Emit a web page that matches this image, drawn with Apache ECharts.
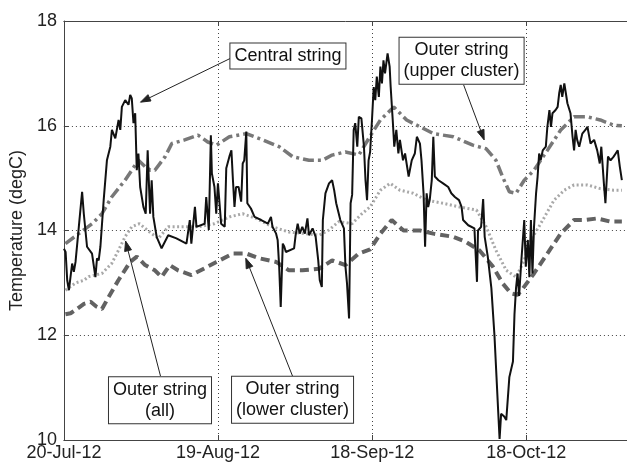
<!DOCTYPE html>
<html><head><meta charset="utf-8">
<script src="https://cdn.jsdelivr.net/npm/echarts@6/dist/echarts.min.js"></script>
<style>html,body{margin:0;padding:0;background:#fff}#c{width:627px;height:463px}</style>
</head><body><div id="c"></div>
<script>
// x values are days since 20-Jul-12
const xTickLabels = ['20-Jul-12', '19-Aug-12', '18-Sep-12', '18-Oct-12'];
const yTicks = [10, 12, 14, 16, 18];

const centralDays = [0.0,0.33,0.64,0.97,1.6,1.93,2.26,2.9,3.54,3.87,4.5,5.47,6.13,6.44,6.77,7.1,7.74,8.37,9.03,9.34,10.0,10.64,10.97,11.28,11.93,12.57,12.9,13.21,13.54,13.87,14.18,14.5,14.84,15.47,15.92,16.3,16.77,17.08,17.41,18.05,19.01,20.3,21.9,23.85,24.5,24.8,25.5,25.8,27.4,27.7,28.2,28.6,28.8,29.3,29.65,
29.98,30.6,31.3,31.6,32.2,32.6,32.9,33.2,33.5,34.0,34.5,34.8,35.1,35.5,35.7,36.4,37.1,38.4,39.7,40.3,40.6,41.3,41.6,41.9,42.2,42.6,42.9,43.2,44.8,45.1,45.5,45.9,46.4,46.9,47.4,47.7,48.4,49.0,49.5,49.8,50.2,50.4,50.9,51.6,52.2,52.6,53.0,53.8,54.5,54.8,55.1,55.5,55.8,56.1,56.4,56.7,57.1,57.4,57.9,58.4,58.7,59.0,59.3,59.6,
59.96,60.3,60.6,60.9,61.3,61.6,61.9,62.2,62.5,63.0,63.4,63.6,64.0,64.3,64.7,65.1,65.4,66.0,66.4,67.1,67.7,68.3,68.7,69.3,69.6,70.0,70.3,70.6,70.9,71.2,71.6,71.9,72.2,72.9,73.8,74.8,75.4,76.1,76.9,77.4,77.7,78.7,79.9,80.4,80.6,81.2,81.6,81.9,82.5,83.2,83.8,84.5,84.8,85.1,85.7,86.1,86.7,87.4,87.7,88.0,88.3,88.6,89.0,89.6,89.9,90.3,90.6,90.9,91.2,91.5,91.9,92.2,92.5,92.8,93.2,93.8,94.1,94.5,94.8,95.1,95.7,96.1,96.4,96.7,97.0,97.4,97.7,98.0,98.6,99.0,99.3,99.6,99.9,100.3,100.9,101.5,101.9,102.5,103.2,103.8,104.3,104.6,105.1,105.4,105.9,106.4,107.0,107.4,107.8,108.2,108.6];
const centralTemp = [13.65,13.59,13.05,12.86,13.37,13.21,13.40,14.07,14.74,14.32,13.69,13.56,13.11,13.47,13.43,13.69,14.58,15.34,15.60,15.92,15.76,16.11,15.92,16.36,16.49,16.40,16.59,16.52,16.05,16.24,15.15,15.47,14.83,14.45,14.32,15.53,14.32,14.96,14.26,13.88,13.66,13.91,13.85,13.75,14.20,13.75,14.45,14.07,14.13,14.64,14.01,15.82,15.09,14.83,14.32,
14.90,14.13,14.07,15.19,15.41,15.53,14.96,14.45,14.83,14.83,14.55,15.28,15.34,15.89,14.52,14.42,14.26,14.20,14.13,14.26,14.07,13.94,13.82,13.31,12.54,13.75,13.69,13.59,13.66,13.91,14.13,13.94,14.07,13.94,14.23,13.91,14.04,13.88,13.43,13.05,12.92,14.20,14.71,14.90,14.96,14.77,14.52,14.20,14.04,13.31,12.99,12.32,14.52,14.68,15.92,16.05,15.60,16.17,16.14,15.60,14.96,14.58,15.34,15.50,
16.11,16.74,16.49,16.94,16.55,17.13,16.81,17.25,17.00,17.38,17.13,16.74,16.11,15.60,15.92,15.47,15.73,15.34,15.47,15.03,15.34,15.47,15.79,15.66,15.34,14.71,13.69,14.71,14.45,14.58,14.96,15.79,15.03,14.96,14.90,14.83,14.71,14.64,14.58,14.45,14.20,14.10,14.04,13.02,14.00,14.07,14.60,13.88,13.50,12.90,12.00,10.60,10.02,10.50,10.45,10.38,11.20,11.50,12.40,12.90,13.18,12.75,13.37,14.20,13.31,13.82,13.11,14.20,13.18,14.07,14.71,15.03,15.47,15.34,15.53,15.60,15.98,16.30,15.98,16.24,16.30,16.36,16.62,16.78,16.55,16.81,16.62,16.43,16.24,15.79,15.53,15.92,15.73,15.60,15.85,15.92,15.98,15.66,15.73,15.53,15.28,15.60,14.90,14.52,15.41,15.34,15.41,15.47,15.53,15.22,14.96];

const upperDays = [0.3,2.9,5.5,7.4,9.3,11.9,14.5,15.8,16.8,17.7,19.7,21.0,23.5,26.1,28.0,29.7,32.2,35.5,38.7,41.9,44.5,47.7,50.3,52.2,54.8,57.4,59.6,61.6,64.2,66.7,69.3,71.9,75.8,79.6,82.2,84.1,85.4,86.7,88.0,89.6,91.5,94.1,96.7,99.3,101.9,104.4,107.0,108.6];
const upperTemp = [13.75,13.94,14.13,14.32,14.64,14.96,15.34,15.22,15.15,15.15,15.41,15.66,15.73,15.82,15.69,15.63,15.79,15.85,15.73,15.60,15.41,15.34,15.34,15.44,15.50,15.44,15.80,16.11,16.36,16.11,15.98,15.85,15.79,15.63,15.56,15.34,15.02,14.74,14.71,14.96,15.15,15.53,15.92,16.17,16.17,16.11,16.01,16.00];

const allDays = [0.3,2.3,3.9,4.8,7.4,9.3,10.6,11.9,13.2,14.7,17.1,18.4,20.3,22.9,26.1,29.3,32.2,34.8,37.4,40.6,43.8,47.1,49.7,51.6,53.5,56.1,58.0,59.6,61.6,63.5,65.4,68.0,70.6,73.8,77.0,80.3,82.2,84.1,86.1,88.0,89.6,90.9,92.8,95.4,97.4,99.3,101.9,104.4,107.0,108.6];
const allTemp = [12.86,13.00,13.05,13.12,13.18,13.37,13.62,13.88,14.07,14.13,13.94,13.85,14.07,14.07,14.07,14.13,14.26,14.32,14.23,14.07,13.97,13.94,13.91,14.01,14.17,14.13,14.32,14.45,14.77,14.90,14.77,14.71,14.58,14.52,14.45,14.39,14.07,13.62,13.24,13.11,13.43,13.82,14.13,14.58,14.77,14.87,14.87,14.80,14.77,14.77];

const lowerDays = [0.3,1.3,2.5,3.9,5.2,6.3,7.4,8.7,10.6,12.9,14.2,15.8,17.7,19.0,20.6,22.2,24.8,27.4,29.7,32.9,35.5,38.0,41.3,43.8,46.4,49.7,52.2,54.8,57.4,59.6,61.6,63.8,66.1,69.3,71.9,75.8,78.3,80.9,83.5,85.4,87.0,88.3,89.0,91.5,94.1,96.7,99.3,101.2,103.8,106.4,108.6];
const lowerTemp = [12.40,12.42,12.50,12.60,12.64,12.55,12.50,12.73,13.05,13.40,13.50,13.34,13.24,13.11,13.34,13.24,13.15,13.28,13.40,13.56,13.56,13.47,13.40,13.24,13.24,13.27,13.43,13.34,13.56,13.64,13.94,14.20,14.00,14.00,13.94,13.88,13.78,13.62,13.31,12.99,12.80,12.77,12.85,13.18,13.56,13.94,14.20,14.20,14.23,14.17,14.17];

// annotations: [label, boxCenterDay, boxCenterTemp, arrowStartDay, arrowStartTemp, tipDay, tipTemp]
const annotations = [
  ['Central string', 43.6, 17.33, 32.9, 17.31, 14.9, 16.45],
  ['Outer string\n(upper cluster)', 77.4, 17.24, 77.8, 16.78, 81.8, 15.73],
  ['Outer string\n(all)', 18.7, 10.76, 18.8, 11.22, 12.0, 13.80],
  ['Outer string\n(lower cluster)', 44.5, 10.77, 44.5, 11.22, 35.4, 13.47]
];

const zip = (a, b) => a.map((v, i) => [v, b[i]]);
const FONT = 'Liberation Sans, Arial, sans-serif';
const chart = echarts.init(document.getElementById('c'), null, {renderer: 'canvas'});

const X_MAX = 109.6;
const option = {
  animation: false,
  backgroundColor: '#fff',
  grid: {left: 60, top: 21, right: 0, bottom: 23, containLabel: false},
  xAxis: [{
    type: 'value', min: 0, max: X_MAX, interval: 30,
    axisLine: {show: true, onZero: false, lineStyle: {color: '#444', width: 1}},
    axisTick: {show: true, inside: true, length: 5, lineStyle: {color: '#444'}},
    axisLabel: {color: '#222', fontSize: 18, fontFamily: FONT, margin: 4, showMaxLabel: false,
      formatter: v => (v % 30 === 0 && xTickLabels[v / 30]) ? xTickLabels[v / 30] : ''},
    splitLine: {show: true, lineStyle: {color: '#444', type: [1, 3], width: 1}}
  }, {
    type: 'value', position: 'top', min: 0, max: X_MAX, interval: 30,
    axisLine: {show: true, onZero: false, lineStyle: {color: '#444', width: 1}},
    axisTick: {show: true, inside: true, length: 5, lineStyle: {color: '#444'}},
    axisLabel: {show: false}, splitLine: {show: false}
  }],
  yAxis: {
    type: 'value', min: yTicks[0], max: yTicks[yTicks.length - 1], interval: 2,
    name: 'Temperature (degC)', nameLocation: 'middle', nameGap: 33,
    nameTextStyle: {color: '#222', fontSize: 18, fontFamily: FONT},
    axisLine: {show: true, lineStyle: {color: '#444', width: 1}},
    axisTick: {show: true, inside: true, length: 5, lineStyle: {color: '#444'}},
    axisLabel: {color: '#222', fontSize: 18, fontFamily: FONT, margin: 7},
    splitLine: {show: true, lineStyle: {color: '#444', type: [1, 3], width: 1}}
  },
  series: [
    {name: 'Outer string (lower cluster)', type: 'line', showSymbol: false, symbol: 'none', data: zip(lowerDays, lowerTemp),
      lineStyle: {color: '#626262', width: 4, type: [9, 5]}, z: 2},
    {name: 'Outer string (all)', type: 'line', showSymbol: false, symbol: 'none', data: zip(allDays, allTemp),
      lineStyle: {color: '#a8a8a8', width: 3, type: [2, 2.5]}, z: 2},
    {name: 'Outer string (upper cluster)', type: 'line', showSymbol: false, symbol: 'none', data: zip(upperDays, upperTemp),
      lineStyle: {color: '#787878', width: 3.5, type: [11, 4, 3, 4]}, z: 2},
    {name: 'Central string', type: 'line', showSymbol: false, symbol: 'none', data: zip(centralDays, centralTemp),
      lineStyle: {color: '#111', width: 2}, z: 3}
  ]
};
chart.setOption(option);

const toPx = (d, t) => chart.convertToPixel({xAxisIndex: 0, yAxisIndex: 0}, [d, t]);
const graphics = [];
annotations.forEach(a => {
  const c = toPx(a[1], a[2]);
  const s = toPx(a[3], a[4]);
  const tip = toPx(a[5], a[6]);
  const dx = tip[0] - s[0], dy = tip[1] - s[1];
  const L = Math.hypot(dx, dy), ux = dx / L, uy = dy / L;
  const hl = 10, hw = 3.5;
  const bx = tip[0] - ux * hl, by = tip[1] - uy * hl;
  graphics.push({type: 'line', shape: {x1: s[0], y1: s[1], x2: bx, y2: by}, style: {stroke: '#222', lineWidth: 1}, z: 10});
  graphics.push({type: 'polygon', shape: {points: [[tip[0], tip[1]], [bx - uy * hw, by + ux * hw], [bx + uy * hw, by - ux * hw]]},
    style: {fill: '#222', stroke: '#222', lineWidth: 1}, z: 10});
  graphics.push({type: 'text', x: c[0], y: c[1], z: 11,
    style: {text: a[0], font: '18px ' + FONT, fill: '#111', align: 'center', verticalAlign: 'middle',
      lineHeight: 21, backgroundColor: '#fff', borderColor: '#333', borderWidth: 1, padding: [2, 4, 2, 4]}});
});
chart.setOption({graphic: graphics});
</script>
</body></html>
